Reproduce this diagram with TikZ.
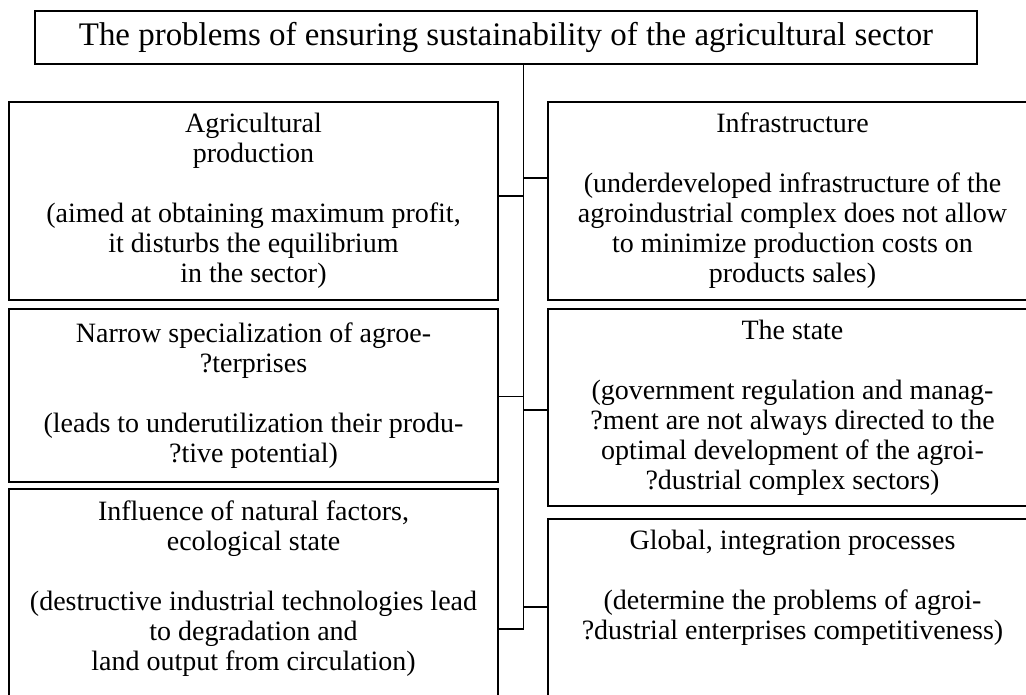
\documentclass[tikz,border=0pt]{standalone}
\usepackage{fontspec}
\setmainfont{Liberation Serif}
\newcommand\bodyfont{\fontsize{21}{22.5}\selectfont}
\newcommand\titlefont{\fontsize{24.7}{26}\selectfont}
\begin{document}
\begin{tikzpicture}[x=0.75pt,y=-0.75pt,
  box/.style={draw,line width=0.9pt,inner sep=0pt,align=center,font=\bodyfont,minimum width=489*0.75pt},
  link/.style={line width=0.9pt}]
\useasboundingbox (0,0) rectangle (1026,694);
\clip (0,0) rectangle (1026,694);
\node[box,minimum width=942*0.75pt,minimum height=53*0.75pt,font=\titlefont] (title) at (506,37.5)
  {The problems of ensuring sustainability of the agricultural sector};
% left column
\node[box,minimum height=198*0.75pt] (ag) at (253.5,201)
  {Agricultural\\production\\\strut\\(aimed at obtaining maximum profit,\\it disturbs the equilibrium\\in the sector)};
\node[box,minimum height=173*0.75pt] (nar) at (253.5,395.5)
  {Narrow specialization of agroe-\\?terprises\\\strut\\(leads to underutilization their produ-\\?tive potential)};
\node[box,minimum height=232*0.75pt] (nat) at (253.5,605)
  {Influence of natural factors,\\ecological state\\\strut\\(destructive industrial technologies lead\\to degradation and\\land output from circulation)\\\strut};
% right column
\node[box,minimum height=198*0.75pt] (inf) at (792.5,201)
  {Infrastructure\\\strut\\(underdeveloped infrastructure of the\\agroindustrial complex does not allow\\to minimize production costs on\\products sales)};
\node[box,minimum height=197*0.75pt] (sta) at (792.5,407.5)
  {The state\\\strut\\(government regulation and manag-\\?ment are not always directed to the\\optimal development of the agroi-\\?dustrial complex sectors)};
\node[box,minimum height=201*0.75pt] (glo) at (792.5,619.5)
  {Global, integration processes\\\strut\\(determine the problems of agroi-\\?dustrial enterprises competitiveness)\\\strut\\\strut};
% connectors
\coordinate (tb) at (523.5,629);
\draw[link] (title.south -| tb) -- (tb);
\draw[link] (ag.east |- 0,196) -- (tb |- 0,196);
\draw[link] (inf.west |- 0,178) -- (tb |- 0,178);
\draw[link] (nar.east |- 0,396.5) -- (tb |- 0,396.5);
\draw[link] (sta.west |- 0,410) -- (tb |- 0,410);
\draw[link] (glo.west |- 0,607) -- (tb |- 0,607);
\draw[link] (nat.east |- tb) -- (tb);
\end{tikzpicture}
\end{document}
